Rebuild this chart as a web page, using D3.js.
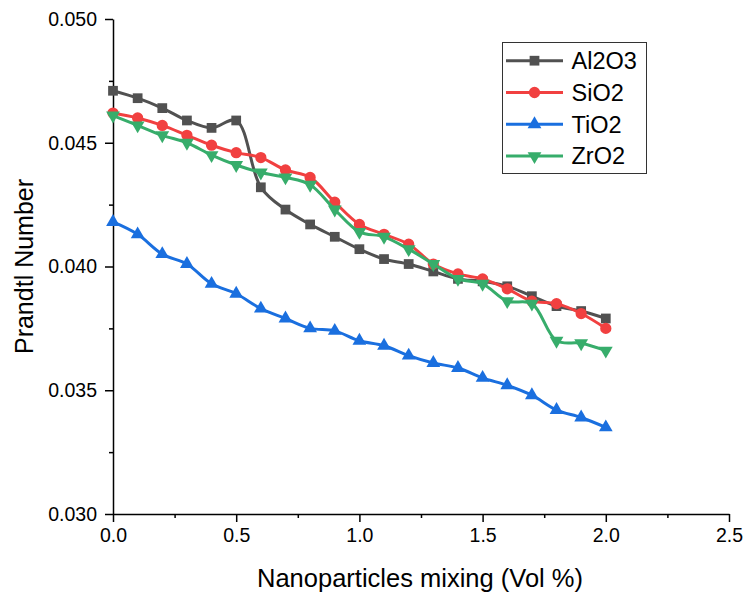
<!DOCTYPE html>
<html>
<head>
<meta charset="utf-8">
<script src="https://cdn.jsdelivr.net/npm/d3@7"></script>
<style>
  html, body { margin: 0; padding: 0; background: #fff; }
  svg { display: block; font-family: "Liberation Sans", Arial, sans-serif; }
</style>
</head>
<body>
<svg id="chart" width="745" height="595"></svg>
<script>
// Volume fraction of nanoparticles (%)
const volFraction = [0.0, 0.1, 0.2, 0.3, 0.4, 0.5, 0.6, 0.7, 0.8, 0.9, 1.0,
                     1.1, 1.2, 1.3, 1.4, 1.5, 1.6, 1.7, 1.8, 1.9, 2.0];

// Prandtl number for each nanofluid
const al2o3 = [0.0471, 0.0468, 0.0464, 0.0459, 0.0456, 0.0459, 0.0432, 0.0423, 0.0417, 0.0412, 0.0407,
               0.0403, 0.0401, 0.0398, 0.0395, 0.0394, 0.0392, 0.0388, 0.0384, 0.0382, 0.0379];
const sio2  = [0.0462, 0.0460, 0.0457, 0.0453, 0.0449, 0.0446, 0.0444, 0.0439, 0.0436, 0.0426, 0.0417,
               0.0413, 0.0409, 0.0401, 0.0397, 0.0395, 0.0391, 0.0386, 0.0385, 0.0381, 0.0375];
const tio2  = [0.0418, 0.0413, 0.0405, 0.0401, 0.0393, 0.0389, 0.0383, 0.0379, 0.0375, 0.0374, 0.0370,
               0.0368, 0.0364, 0.0361, 0.0359, 0.0355, 0.0352, 0.0348, 0.0342, 0.0339, 0.0335];
const zro2  = [0.0461, 0.0457, 0.0453, 0.0450, 0.0445, 0.0441, 0.0438, 0.0436, 0.0433, 0.0423, 0.0414,
               0.0412, 0.0407, 0.0401, 0.0395, 0.0393, 0.0386, 0.0385, 0.0370, 0.0369, 0.0366];

const seriesNames = ["Al2O3", "SiO2", "TiO2", "ZrO2"];
const seriesValues = [al2o3, sio2, tio2, zro2];

const xTicks = [0.0, 0.5, 1.0, 1.5, 2.0, 2.5];
const yTicks = [0.030, 0.035, 0.040, 0.045, 0.050];

const xTitle = "Nanoparticles mixing (Vol %)";
const yTitle = "Prandtl Number";

// styling
const colors = ["#515151", "#F14040", "#1A6FDF", "#37AD6B"];
const shapes = [
  { type: d3.symbolSquare,   size: 95,  rotate: 0 },
  { type: d3.symbolCircle,   size: 100, rotate: 0 },
  { type: d3.symbolTriangle, size: 82,  rotate: 0 },
  { type: d3.symbolTriangle, size: 82,  rotate: 180 }
];

const svg = d3.select("#chart");

const x = d3.scaleLinear().domain([0, 2.5]).range([113, 729]);
const y = d3.scaleLinear().domain([0.030, 0.050]).range([514, 19]);

const tickFont = 19.5;

// X axis
svg.append("g")
  .attr("transform", `translate(0,${y(0.030)})`)
  .call(d3.axisBottom(x).tickValues(xTicks).tickFormat(d3.format(".1f"))
        .tickSize(8).tickSizeOuter(0).tickPadding(6));
svg.append("g")
  .attr("transform", `translate(0,${y(0.030)})`)
  .call(d3.axisBottom(x).tickValues(d3.range(0.25, 2.5, 0.5)).tickFormat("")
        .tickSize(4).tickSizeOuter(0))
  .call(g => g.select(".domain").remove());

// Y axis
svg.append("g")
  .attr("transform", `translate(${x(0)},0)`)
  .call(d3.axisLeft(y).tickValues(yTicks).tickFormat(d3.format(".3f"))
        .tickSize(8).tickSizeOuter(0).tickPadding(8));
svg.append("g")
  .attr("transform", `translate(${x(0)},0)`)
  .call(d3.axisLeft(y).tickValues(d3.range(0.0325, 0.050, 0.005)).tickFormat("")
        .tickSize(4).tickSizeOuter(0))
  .call(g => g.select(".domain").remove());

svg.selectAll(".domain, .tick line")
  .attr("stroke", "#000").attr("stroke-width", 1.5);
svg.selectAll(".tick text")
  .attr("fill", "#000")
  .style("font-size", tickFont + "px")
  .style("font-family", "Liberation Sans, Arial, sans-serif");

// Axis titles
svg.append("text")
  .attr("x", (x(0) + x(2.5)) / 2 - 1)
  .attr("y", 587)
  .attr("text-anchor", "middle")
  .style("font-size", "25.5px")
  .text(xTitle);

svg.append("text")
  .attr("transform", `translate(33,${y(0.040)}) rotate(-90)`)
  .attr("text-anchor", "middle")
  .style("font-size", "25px")
  .text(yTitle);

// Series: spline line + markers
const line = d3.line()
  .x((d, i) => x(volFraction[i]))
  .y(d => y(d))
  .curve(d3.curveCatmullRom.alpha(0.5));

const plot = svg.append("g");
seriesValues.forEach((vals, s) => {
  const g = plot.append("g");
  g.append("path")
    .datum(vals)
    .attr("d", line)
    .attr("fill", "none")
    .attr("stroke", colors[s])
    .attr("stroke-width", 3);
  g.selectAll("path.mk")
    .data(vals)
    .join("path")
    .attr("class", "mk")
    .attr("d", d3.symbol().type(shapes[s].type).size(shapes[s].size))
    .attr("transform", (d, i) => `translate(${x(volFraction[i])},${y(d)}) rotate(${shapes[s].rotate})`)
    .attr("fill", colors[s]);
});

// Legend
const legend = svg.append("g");
legend.append("rect")
  .attr("x", 502.5).attr("y", 42.5)
  .attr("width", 144).attr("height", 131)
  .attr("fill", "#fff").attr("stroke", "#333").attr("stroke-width", 1);

seriesNames.forEach((name, s) => {
  const ly = 60.7 + s * 31.8;
  legend.append("line")
    .attr("x1", 506).attr("x2", 563)
    .attr("y1", ly).attr("y2", ly)
    .attr("stroke", colors[s]).attr("stroke-width", 3);
  legend.append("path")
    .attr("d", d3.symbol().type(shapes[s].type).size(shapes[s].size)())
    .attr("transform", `translate(534.5,${ly}) rotate(${shapes[s].rotate})`)
    .attr("fill", colors[s]);
  legend.append("text")
    .attr("x", 571.5)
    .attr("y", ly + 8.2)
    .style("font-size", "23.5px")
    .text(name);
});
</script>
</body>
</html>
